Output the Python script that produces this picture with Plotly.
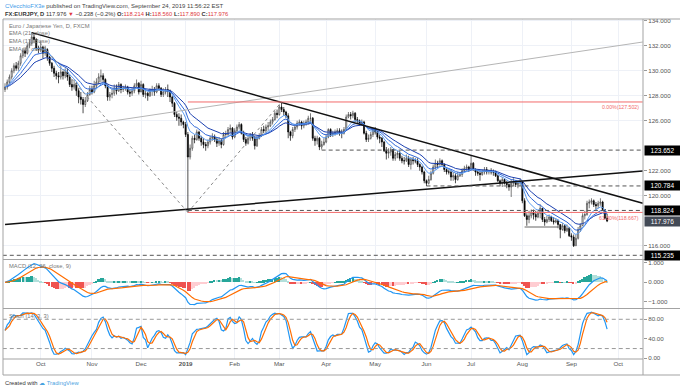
import pandas as pd
import numpy as np
import plotly.graph_objects as go

# ---------------- data ----------------
holidays = ["2018-12-25", "2019-01-01"]
first_day = "2018-09-07"
axis_last_day = "2019-10-18"

first_open = 128.5
last_open = 118.214

close = [128.7,
 129.1,129.5,130.0,130.4,130.2, 130.6,131.2,131.6,131.4,132.0, 132.2,132.7,132.5,131.8,131.7,
 131.9,131.4,131.7,131.1,130.6, 130.2,129.8,129.6,129.5,129.9, 129.6,129.9,129.5,128.9,128.7,
 128.9,128.4,127.9,127.7,127.3, 127.6,128.1,128.5,128.3,128.8, 129.1,129.5,129.6,129.3,128.8,
 127.9,128.1,128.2,128.6,128.4, 128.9,128.5,128.6,128.7,128.3, 128.2,128.4,128.8,129.0,128.3,
 128.9,128.1,128.2,128.0,128.4, 128.5,128.3,128.8,128.6,128.1, 128.3,128.5,128.4,127.9,127.4,
 126.5,126.3,126.2,125.9, 125.7,124.9,123.1,123.8,
 124.6,124.5,125.1,124.6,124.3, 124.1,124.0,124.3,124.6,124.7, 124.5,124.2,124.4,124.1,124.9,
 124.9,125.3,125.4,124.7,125.2, 125.5,125.7,125.0,124.5,124.2, 124.6,124.9,124.6,124.0,124.6,
 124.8,125.3,125.2,125.5,125.6, 125.9,126.1,126.6,126.5,127.1, 126.9,126.7,126.4,125.1,124.8,
 125.3,125.5,125.8,125.9,125.6, 125.8,125.9,126.2,126.2,124.6, 124.4,124.6,123.9,124.1,124.3,
 124.7,125.3,124.9,125.0,125.1, 125.2,125.0,125.0,125.3,126.3, 126.5,126.4,126.6,126.1,126.0,
 125.8,125.9,125.0,124.5,124.6, 124.9,125.3,125.1,124.7,124.6, 124.3,123.6,123.4,123.5,123.7,
 123.0,123.3,123.4,123.0,122.8, 122.8,123.0,122.5,122.9,122.8, 122.8,122.5,122.3,121.9,121.2,
 121.0,121.3,121.8,122.3,122.6, 122.5,122.8,122.5,122.1,121.9, 121.9,121.5,121.6,121.3,121.6,
 121.7,122.0,122.2,122.3,122.1, 122.6,122.1,121.9,121.8,121.7, 121.9,122.1,121.9,122.0,121.9,
 121.9,121.6,121.2,121.0,121.3, 121.0,120.9,120.7,121.0,121.1, 120.9,121.0,121.1,119.6,118.4,
 118.1,118.4,118.7,118.5,118.3, 118.6,119.0,118.1,117.9,118.1, 118.3,118.0,117.9,118.0,117.7,
 117.3,117.6,117.2,117.4,116.8, 116.7,116.0,116.6,117.3,117.6, 118.4,118.5,119.4,119.5,119.6,
 119.3,119.2,119.4,119.5,118.9, 118.2,117.976]

high = [129.0,
 129.3,129.7,130.2,130.6,130.7, 130.8,131.4,131.8,131.8,132.2, 132.5,133.1,133.0,132.6,132.0,
 132.4,132.0,132.0,131.8,131.2, 130.7,130.4,130.0,129.9,130.3, 130.0,130.2,130.2,129.7,129.3,
 129.3,129.1,128.6,128.3,127.9, 127.9,128.3,128.8,128.8,129.2, 129.4,129.8,130.1,129.8,129.4,
 128.9,128.3,128.6,128.9,128.9, 129.1,129.0,128.8,128.9,128.8, 128.5,128.6,129.0,129.3,129.1,
 129.2,129.0,128.5,128.3,128.6, 128.8,128.7,129.0,129.0,128.7, 128.6,128.7,128.9,128.5,128.0,
 127.5,126.7,126.6,126.5, 126.0,125.9,125.1,124.1,
 124.8,124.9,125.3,125.2,124.8, 124.6,124.3,124.5,124.8,125.0, 124.9,124.7,124.7,124.6,125.1,
 125.2,125.5,125.7,125.5,125.4, 125.7,125.9,125.8,125.2,124.7, 124.8,125.0,125.1,124.8,124.8,
 125.0,125.5,125.6,125.7,125.9, 126.1,126.3,126.8,126.9,127.3, 127.5,127.1,126.8,126.6,125.2,
 125.5,125.7,126.0,126.1,126.0, 126.0,126.1,126.4,126.6,126.3, 124.8,124.8,124.7,124.4,124.6,
 124.9,125.4,125.4,125.2,125.3, 125.4,125.4,125.3,125.5,126.5, 126.7,126.7,126.8,126.7,126.3,
 126.1,126.1,126.0,125.2,124.9, 125.1,125.5,125.5,125.2,124.9, 124.7,124.4,123.9,123.8,123.9,
 123.7,123.5,123.6,123.6,123.2, 123.1,123.3,123.2,123.1,123.1, 123.0,123.0,122.6,122.4,122.0,
 121.3,121.6,122.0,122.5,122.9, 122.8,123.0,122.9,122.6,122.2, 122.1,122.1,121.9,121.8,121.9,
 121.9,122.2,122.4,122.5,122.4, 123.2,122.7,122.2,122.0,122.0, 122.1,122.3,122.3,122.1,122.2,
 122.1,122.0,121.7,121.3,121.5, 121.4,121.2,121.0,121.3,121.4, 121.2,121.2,121.4,121.1,119.8,
 118.6,118.8,118.9,118.9,118.8, 118.8,119.3,118.9,118.3,118.4, 118.5,118.4,118.3,118.2,118.1,
 117.7,117.8,117.7,117.7,117.5, 117.0,116.9,116.9,117.5,117.8, 118.6,118.8,119.6,119.7,119.8,
 119.7,119.5,119.6,119.8,119.6, 118.9,118.56]

low = [128.3,
 128.5,128.9,129.3,129.8,130.0, 130.0,130.4,131.0,131.1,131.3, 131.8,132.0,132.2,131.6,131.4,
 131.5,131.0,131.2,130.8,130.4, 129.9,129.5,129.3,129.0,129.3, 129.3,129.4,129.2,128.7,128.4,
 128.5,128.0,127.4,127.3,126.6, 127.1,127.5,128.0,128.1,128.2, 128.6,128.9,129.1,129.1,128.6,
 127.6,127.6,127.8,128.0,128.1, 128.3,128.2,128.3,128.4,128.1, 127.9,128.0,128.2,128.6,128.1,
 128.4,127.9,127.8,127.6,127.9, 128.0,128.0,128.2,128.4,127.9, 127.9,128.1,127.9,127.5,127.1,
 126.3,126.0,125.6,125.6, 125.4,124.7,118.667,122.9,
 123.6,124.2,124.4,124.4,124.0, 123.8,123.6,123.8,124.1,124.4, 124.3,123.9,124.0,123.8,124.0,
 124.6,124.8,125.0,124.5,124.6, 125.1,125.3,124.9,124.3,124.0, 124.1,124.4,124.4,123.7,123.9,
 124.5,124.7,125.0,125.0,125.2, 125.5,125.7,126.0,126.2,126.4, 126.7,126.4,126.2,124.6,124.4,
 124.6,125.1,125.3,125.6,125.3, 125.4,125.6,125.7,125.8,124.4, 124.0,124.1,123.65,123.7,124.0,
 124.2,124.6,124.7,124.7,124.8, 124.9,124.8,124.6,124.9,125.2, 126.2,126.1,126.2,125.9,125.8,
 125.6,125.6,124.9,124.3,124.3, 124.5,124.7,124.9,124.5,124.2, 123.9,123.5,122.9,123.0,123.2,
 122.8,122.8,123.0,122.8,122.6, 122.5,122.7,122.3,122.1,122.5, 122.6,122.3,122.0,121.7,121.0,
 120.78,120.9,121.2,121.7,122.1, 122.2,122.4,122.4,121.9,121.7, 121.7,121.2,121.2,121.0,121.2,
 121.5,121.5,121.9,122.0,121.9, 122.3,122.0,121.6,121.6,121.2, 121.6,121.7,121.7,121.7,121.7,
 121.6,121.5,121.1,120.8,120.7, 120.9,120.6,120.4,119.9,120.8, 120.7,120.6,120.8,119.4,118.3,
 117.6,117.8,118.2,118.1,118.0, 118.2,118.2,117.9,117.6,117.8, 117.9,117.9,117.7,117.8,117.4,
 116.6,117.2,117.0,117.1,116.7, 116.4,115.9,116.0,116.5,117.1, 117.6,118.1,118.4,119.0,119.3,
 119.1,118.9,119.0,119.2,118.8, 118.1,117.89]

month_ticks = ["2018-10", "2018-11", "2018-12", "2019-01", "2019-02", "2019-03", "2019-04",
               "2019-05", "2019-06", "2019-07", "2019-08", "2019-09", "2019-10"]
month_labels = ["Oct", "Nov", "Dec", "<b>2019</b>", "Feb", "Mar", "Apr", "May", "Jun", "Jul",
                "Aug", "Sep", "Oct"]

price_ticks = [116, 120, 122, 126, 128, 130, 132, 134]
marked_levels = [123.652, 120.784, 118.824, 115.235]
last_price = 117.976
fib_levels = [127.502, 118.667]
fib_labels = ["0.00%(127.502)", "61.80%(118.667)"]
fib_start = "2019-01-03"
dashed_starts = ["2019-03-28", "2019-06-03", "2019-01-03", "2018-09-07"]

trend_desc = [("2018-09-25", 133.05), ("2019-10-16", 119.4)]
trend_up_black = [("2018-09-07", 117.7), ("2019-10-16", 121.98)]
trend_up_gray = [("2018-09-07", 124.7), ("2019-10-16", 132.3)]
zigzag = [("2018-09-25", 133.0), ("2019-01-03", 118.667), ("2019-03-04", 127.502)]
short_support = [("2019-08-02", 117.5), ("2019-08-23", 117.5)]

# ---------------- derived ----------------
all_days = [d for d in pd.bdate_range(first_day, axis_last_day)
            if d.strftime("%Y-%m-%d") not in holidays]
day_idx = {d.strftime("%Y-%m-%d"): i for i, d in enumerate(all_days)}
n = len(close)
xs = list(range(n))
opn = [first_open] + close[:-1]
opn[-1] = last_open
hi = [max(h, o, c) for h, o, c in zip(high, opn, close)]
lo = [min(l, o, c) for l, o, c in zip(low, opn, close)]

s = pd.Series(close)
ema8 = s.ewm(span=8, adjust=False).mean()
ema13 = s.ewm(span=13, adjust=False).mean()
ema21 = s.ewm(span=21, adjust=False).mean()
macd = s.ewm(span=12, adjust=False).mean() - s.ewm(span=26, adjust=False).mean()
signal = macd.ewm(span=9, adjust=False).mean()
hist = macd - signal
hcol = []
for i, h in enumerate(hist):
    p = hist.iloc[i - 1] if i > 0 else h
    if h >= 0:
        hcol.append("#26A69A" if h > p else "#B2DFDB")
    else:
        hcol.append("#FFCDD2" if h > p else "#EF5350")
hh = pd.Series(hi).rolling(14, min_periods=1).max()
ll = pd.Series(lo).rolling(14, min_periods=1).min()
raw = 100 * (s - ll) / (hh - ll)
k = raw.rolling(3, min_periods=1).mean()
d = k.rolling(3, min_periods=1).mean()

month_pos = []
for m in month_ticks:
    month_pos.append(next(i for i, dd in enumerate(all_days) if dd.strftime("%Y-%m") == m))

# ---------------- figure ----------------
FONT = "Liberation Sans"
fig = go.Figure()
fig.add_trace(go.Candlestick(
    x=xs, open=opn, high=hi, low=lo, close=close, yaxis="y", xaxis="x",
    increasing=dict(line=dict(color="#444", width=0.7), fillcolor="white"),
    decreasing=dict(line=dict(color="#000", width=0.7), fillcolor="#000"),
    whiskerwidth=0, hoverinfo="skip"))
for ser, col in [(ema21, "#1a3fb0"), (ema13, "#2d66d8"), (ema8, "#5b9cf0")]:
    fig.add_trace(go.Scatter(x=xs, y=ser, mode="lines", line=dict(color=col, width=1), yaxis="y"))

fig.add_trace(go.Bar(x=xs, y=hist, marker=dict(color=hcol, line=dict(width=0)), width=0.75, yaxis="y2"))
fig.add_trace(go.Scatter(x=xs, y=macd, mode="lines", line=dict(color="#2196F3", width=1.2), yaxis="y2"))
fig.add_trace(go.Scatter(x=xs, y=signal, mode="lines", line=dict(color="#FF6D00", width=1.2), yaxis="y2"))
fig.add_trace(go.Scatter(x=xs, y=k, mode="lines", line=dict(color="#2196F3", width=1.2), yaxis="y3"))
fig.add_trace(go.Scatter(x=xs, y=d, mode="lines", line=dict(color="#FF6D00", width=1.2), yaxis="y3"))

x_end = day_idx["2019-10-16"]
x_left = -1
shapes = []
def seg(pts, color, width, dash="solid"):
    for (d0, p0), (d1, p1) in zip(pts[:-1], pts[1:]):
        shapes.append(dict(type="line", xref="x", yref="y", x0=day_idx[d0], y0=p0,
                           x1=day_idx[d1], y1=p1, line=dict(color=color, width=width, dash=dash)))
seg(trend_up_gray, "#b5b5b5", 1)
seg(trend_desc, "#111", 1.5)
seg(trend_up_black, "#111", 1.5)
seg(zigzag, "#888", 1, "3px,3px")
seg(short_support, "#666", 1)
for lvl, st in zip(marked_levels, dashed_starts):
    shapes.append(dict(type="line", xref="x", yref="y", x0=day_idx[st] if st != first_day else x_left,
                       x1=x_end, y0=lvl, y1=lvl, line=dict(color="#555", width=1, dash="4px,3px")))
for lvl in fib_levels:
    shapes.append(dict(type="line", xref="x", yref="y", x0=day_idx[fib_start], x1=x_end,
                       y0=lvl, y1=lvl, line=dict(color="#f26b6b", width=1)))
for yv in [80, 20]:
    shapes.append(dict(type="line", xref="x", yref="y3", x0=x_left, x1=x_end, y0=yv, y1=yv,
                       line=dict(color="#999", width=1, dash="4px,3px")))

# frame lines (paper coords)
R = 1 + 37 / 640
B = -16 / 340
frame = "#a3a3a3"
for yv in [1, 100 / 340 - 0.0015, 51 / 340 - 0.0015, 0]:
    shapes.append(dict(type="line", xref="paper", yref="paper", x0=0, x1=R if yv != 0 else 1,
                       y0=yv, y1=yv, line=dict(color=frame, width=1)))
shapes.append(dict(type="line", xref="paper", yref="paper", x0=0, x1=R, y0=B, y1=B, line=dict(color=frame, width=1)))
for xv in [0, 1]:
    shapes.append(dict(type="line", xref="paper", yref="paper", x0=xv, x1=xv, y0=B, y1=1,
                       line=dict(color=frame, width=1)))

ann = []
def pt(yp):
    return (359 - yp) / 340
ann.append(dict(xref="paper", yref="paper", x=0, y=pt(6), xanchor="left", yanchor="middle",
                text="<span style='color:#3d9be9'>CVecchioFX3e</span> published on TradingView.com, September 24, 2019 11:56:22 EST",
                font=dict(size=6, color="#444"), showarrow=False))
red = "#e0393e"
ann.append(dict(xref="paper", yref="paper", x=0, y=pt(14), xanchor="left", yanchor="middle",
                text=(f"<b>FX:EURJPY, D</b> 117.976 <span style='color:{red}'>▼</span> −0.238 (−0.2%) "
                      f"<b>O:</b><span style='color:{red}'>118.214</span> <b>H:</b><span style='color:{red}'>118.560</span> "
                      f"<b>L:</b><span style='color:{red}'>117.890</span> <b>C:</b><span style='color:{red}'>117.976</span>"),
                font=dict(size=5.8, color="#333"), showarrow=False))
for txt, yp in [("Euro / Japanese Yen, D, FXCM", 26), ("EMA (21, close)", 33.5),
                ("EMA (13, close)", 41), ("EMA (8, close)", 48.5)]:
    ann.append(dict(xref="paper", yref="paper", x=4 / 640, y=pt(yp), xanchor="left", yanchor="middle",
                    text=txt, font=dict(size=5.8, color="#777"), showarrow=False))
ann.append(dict(xref="paper", yref="paper", x=4 / 640, y=pt(265.5), xanchor="left", yanchor="middle",
                text="MACD (12, 26, close, 9)", font=dict(size=5.8, color="#777"), showarrow=False))
ann.append(dict(xref="paper", yref="paper", x=4 / 640, y=pt(316), xanchor="left", yanchor="middle",
                text="Stoch (14, 3, 3)", font=dict(size=5.8, color="#777"), showarrow=False))
ann.append(dict(xref="paper", yref="paper", x=0, y=pt(383), xanchor="left", yanchor="middle",
                text="Created with <span style='color:#4aa3df'>☁ TradingView</span>",
                font=dict(size=5.8, color="#333"), showarrow=False))
for lvl, txt in zip(fib_levels, fib_labels):
    ann.append(dict(xref="paper", yref="y", x=0.997, y=lvl, xanchor="right", yanchor="top",
                    text=txt, font=dict(size=5.2, color="#f26b6b"), showarrow=False, yshift=-0.5))
for lvl in marked_levels:
    ann.append(dict(xref="paper", yref="y", x=1, y=lvl, xanchor="left", yanchor="middle",
                    text=f"{lvl:.3f}", font=dict(size=6.5, color="white"), bgcolor="#000",
                    width=35, height=9, showarrow=False, borderpad=0, xshift=1))
ann.append(dict(xref="paper", yref="y", x=1, y=last_price, xanchor="left", yanchor="middle",
                text=f"{last_price:.3f}", font=dict(size=6.5, color="white"), bgcolor="#434a56",
                width=35, height=9, showarrow=False, borderpad=0, xshift=1))

grid = "#eef1f7"
axfont = dict(size=6.2, color="#555", family=FONT)
fig.update_layout(
    width=680, height=391, margin=dict(l=3, r=37, t=19, b=32),
    paper_bgcolor="white", plot_bgcolor="white", showlegend=False,
    font=dict(family=FONT, size=6, color="#555"), bargap=0,
    xaxis=dict(range=[-0.9, 286.1], tickvals=month_pos, ticktext=month_labels, anchor="y3",
               showgrid=True, gridcolor=grid, gridwidth=1, zeroline=False, showline=False,
               ticks="", tickfont=axfont, rangeslider=dict(visible=False), fixedrange=True),
    yaxis=dict(domain=[100 / 340, 1], range=[114.94, 134.14], side="right", tickvals=price_ticks,
               tickformat=".3f", showgrid=True, gridcolor=grid, zeroline=False, ticks="outside",
               ticklen=3, tickcolor="#999", tickfont=axfont, anchor="x"),
    yaxis2=dict(domain=[51 / 340, 99 / 340], range=[-1.308, 1.135], side="right", tickvals=[-1, 0, 1],
                ticktext=["−1.000", "0.000", "1.000"], showgrid=False, zeroline=False,
                ticks="outside", ticklen=3, tickcolor="#999", tickfont=axfont, anchor="x"),
    yaxis3=dict(domain=[0, 50 / 340], range=[-1.4, 101.1], side="right", tickvals=[0, 40, 80],
                ticktext=["0.00", "40.00", "80.00"], showgrid=False, zeroline=False,
                ticks="outside", ticklen=3, tickcolor="#999", tickfont=axfont, anchor="x"),
    shapes=shapes, annotations=ann,
)
fig.write_html("out.html", config={"displayModeBar": False},
               post_script="document.body.style.margin='0';document.body.style.overflow='hidden';")
